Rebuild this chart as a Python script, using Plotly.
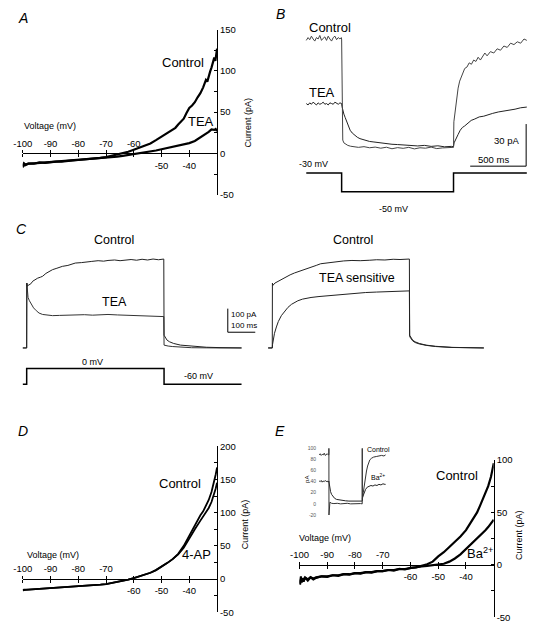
import plotly.graph_objects as go

W, H = 533, 633
FONT = "Liberation Sans, Arial, sans-serif"


def PX(x):
    return x / W


def PY(y):
    return 1 - y / H


# ---------------- data ----------------
V_TICKS = [-100, -90, -80, -70, -60, -50, -40]
V_TICK_TEXT = ["-100", "-90", "-80", "-70", "-60", "-50", "-40"]

# Panel A : I-V, control vs TEA
A_CTRL_V = [-100, -99.6, -99.2, -98, -96, -94, -92, -90, -88, -86, -84, -82, -80, -78, -76, -74, -72, -70,
            -68, -66, -64, -62, -60, -58, -56, -54, -52, -50, -48, -46, -45, -44, -43, -42, -41, -40,
            -39, -38, -37, -36, -35, -34.5, -34, -33.5, -33, -32.5, -32, -31.5, -31, -30.6, -30.3, -30]
A_CTRL_I = [-17, -12, -14.5, -12.5, -12.5, -11, -11.5, -10.5, -10, -10, -9, -8.5, -8, -7.5, -7, -6.5, -5.5, -4.5,
            -3, -1.5, 0, 2, 4.5, 7, 9.5, 12, 16, 20, 24, 28, 31, 35, 38, 42, 49, 55,
            58, 62, 68, 73, 80, 84, 89, 87, 94, 99, 104, 110, 116, 112, 120, 127]
A_TEA_V = [-100, -99.6, -99, -98, -96, -94, -92, -90, -88, -86, -84, -82, -80, -78, -76, -74, -72, -70,
           -68, -66, -64, -62, -60, -58, -56, -54, -52, -50, -48, -46, -44, -42, -40,
           -38, -37, -36, -35, -34, -33, -32.5, -32, -31, -30.5, -30]
A_TEA_I = [-15, -12, -13.5, -12.5, -12, -11.5, -11, -10.5, -10, -9.5, -9, -8.5, -8, -7.5, -7, -6.5, -6, -5,
           -4.5, -4, -3, -2, -1, 0, 1, 2, 3.5, 5, 6.5, 7.5, 9, 10.5, 12.5,
           15, 17, 19.5, 21.5, 24, 26, 27.5, 29, 28.5, 29.5, 27]
A_Y_TICKS = [-50, 0, 50, 100, 150]
A_Y_MINOR = [-25, 25, 75, 125]

# Panel B : currents at -30 -> -50 -> -30 mV
B_PRE_T = [-316, -300, -285, -270, -255, -240, -225, -210, -195, -180, -165, -150, -135, -120, -105,
           -90, -75, -60, -45, -30, -15, -3]
B_CTRL_T = B_PRE_T + [0, 3, 10, 20, 35, 55, 80, 110, 150, 200,
                      250, 300, 350, 400, 450, 500, 550, 600, 650, 700,
                      750, 800, 850, 900, 950, 998,
                      1000, 1003, 1010, 1020, 1030, 1041, 1055, 1070, 1085, 1100,
                      1120, 1140, 1160, 1180, 1200, 1220, 1240, 1260, 1280, 1300,
                      1330, 1360, 1390, 1420, 1450, 1480, 1510, 1540, 1570, 1600,
                      1630, 1655]
B_CTRL_I = [77, 79, 77.5, 80, 78, 76.5, 79, 78, 80.5, 77, 78.5, 79.5, 77, 80, 78, 76.5, 79, 80, 77.5, 79, 78, 79,
            78, 12, 6, 4, 3, 2.2, 1.6, 1.2, 0.8, 1.3,
            0.5, 1, 0.2, 0.9, -0.2, 0.6, 0.1, 0.8, -0.3, 0.5,
            0.2, 1, -0.1, 0.4, 0.6, 0.5,
            0.8, 19, 24, 30, 37, 43, 48, 51, 54, 57,
            58, 61, 60, 63, 62, 65, 63, 66, 68, 66,
            69, 68, 71, 70, 73, 72, 75, 74, 76, 75,
            78, 77]
B_TEA_T = B_PRE_T + [0, 3, 10, 20, 32, 45, 60, 76, 95, 120,
                     140, 164, 190, 220, 250, 281, 320, 360, 400, 450,
                     500, 573, 620, 680, 740, 800, 860, 920, 980, 1000,
                     1005, 1015, 1030, 1041, 1060, 1080, 1099, 1130, 1158, 1190,
                     1230, 1270, 1304, 1350, 1400, 1450, 1500, 1550, 1600, 1655]
B_TEA_I = [32, 31, 32.5, 31.5, 33, 32, 31, 32.5, 31.5, 32, 33, 31.5, 32, 31, 32.5, 32, 31.5, 33, 32, 31.5, 32.5, 32,
           32, 30, 27, 24.5, 22, 19, 16.5, 13, 11, 9,
           8, 7, 6.3, 5.5, 5, 4.7, 4.2, 3.8, 3.5, 3,
           2.8, 2.3, 2.5, 1.8, 2.2, 1.5, 1.9, 1.2, 1.5, 1.3,
           4, 6, 8, 10, 13, 15, 16, 18, 20, 21,
           22.5, 23, 24, 25, 26, 26.5, 27.5, 28, 29, 29.5]
B_PROTO_T = [-316, 0, 0, 1000, 1000, 1655]
B_PROTO_V = [-30, -30, -50, -50, -30, -30]
B_SCALE_T = [1149, 1649, 1649]
B_SCALE_I = [-12.6, -12.6, 17.4]

# Panel C : currents at 0 mV step
C_L_CTRL_T = [-14, -5, 0, 0.5, 2, 5, 10, 15, 22, 30, 40, 50, 58, 70, 80, 94, 110, 130, 150, 177,
              200, 220, 237, 260, 280, 296, 320, 340, 356, 380, 400, 420, 440, 460, 480, 493, 499, 500, 505, 511,
              520, 535, 560, 594, 654, 700, 782]
C_L_CTRL_I = [0, 0, 0, 275, 262, 265, 268, 272, 283, 290, 296, 300, 304, 316, 322, 332, 338, 346, 350, 360,
              362, 366, 367, 370, 368, 371, 373, 370, 372, 375, 372, 376, 373, 377, 374, 378, 377, 54, 42, 33,
              26, 19, 12, 8, 3, 1.5, 0]
C_L_TEA_T = [-14, -5, 0, 0.5, 2, 5, 10, 17, 25, 35, 45, 58, 75, 94, 120, 150, 177, 210, 240, 270,
             296, 330, 360, 390, 415, 440, 470, 493, 499, 500, 505, 515, 530, 560, 600, 700, 782]
C_L_TEA_I = [0, 0, 0, 275, 230, 214, 200, 186, 170, 158, 148, 142, 139, 137, 138, 140, 140, 141, 139, 142,
             142, 140, 139, 138, 137, 136, 135, 134, 133, 12, 10, 8, 6, 3, 1, 0, 0]
C_R_CTRL_T = [-15, -5, 0, 0.5, 2, 9.5, 20, 33, 50, 65, 81, 100, 117, 140, 160, 176, 200, 220, 236, 260,
              290, 320, 355, 380, 410, 440, 465, 486, 499, 500, 505, 511, 520, 535, 560, 594, 654, 700, 770]
C_R_CTRL_I = [0, 0, 0, 275, 265, 275, 282, 290, 302, 310, 318, 325, 332, 343, 350, 357, 361, 364, 367, 369,
              371, 370, 372, 374, 373, 376, 375, 378, 377, 54, 42, 33, 26, 19, 12, 7, 2.5, 1, 0]
C_R_TEAS_T = [-15, -5, 0, 1, 3.6, 8, 15, 22, 33, 45, 57, 70, 80, 93, 110, 125, 141, 170, 200, 240,
              295, 340, 380, 414, 450, 475, 492, 499, 500, 505, 511, 520, 535, 560, 594, 654, 700, 770]
C_R_TEAS_I = [0, 0, 0, 15, 33, 62, 89, 112, 137, 156, 172, 185, 192, 200, 207, 211, 214, 218, 221, 226,
              232, 235, 237, 239, 240, 241, 242, 242, 48, 38, 30, 23, 17, 11, 6, 2, 1, 0]
C_PROTO_T = [-14, 0, 0, 500, 500, 782]
C_PROTO_V = [-60, -60, 0, 0, -60, -60]
C_SCALE_T = [732, 732, 832]
C_SCALE_I = [166.7, 66.7, 66.7]

# Panel D : I-V, control vs 4-AP
D_V = [-100, -99.6, -98, -96, -94, -92, -90, -88, -86, -84, -82, -80, -78, -76, -74, -72, -70,
       -68, -66, -64, -62, -60, -58, -56, -54, -52, -50, -48, -46, -44, -42, -40,
       -38, -36, -35, -34, -33, -32, -31, -30.5, -30]
D_CTRL_I = [-17, -16, -16, -15.5, -15, -14.5, -14, -13.5, -13, -12.5, -12, -11.5, -11, -10, -9.5, -8.5, -7.5,
            -6, -4.5, -3, -1, 1.5, 4, 6.5, 9.5, 13.5, 18.5, 24, 30, 38, 50, 66,
            80, 96, 102, 110, 119, 131, 147, 157, 168]
D_4AP_I = [-17, -16.5, -16, -15.5, -15, -14.5, -14, -13.5, -13, -12.5, -12, -11.5, -11, -10, -9.5, -8.5, -7.5,
           -6, -4.5, -3, -1, 1.5, 4, 6.5, 9.5, 13.5, 18.5, 24, 30, 37, 47, 62,
           75, 88, 94, 100, 107, 116, 128, 136, 145]
D_Y_TICKS = [-50, 0, 50, 100, 150, 200]
D_Y_MINOR = [-25, 25, 75, 125, 175]

# Panel E : I-V, control vs Ba2+
E_V = [-100, -99.8, -99.5, -99.2, -99, -98.5, -98, -97, -96, -95, -94, -92, -90, -88, -86, -84, -82, -80,
       -78, -76, -74, -72, -70, -68, -66, -64, -62, -60, -58, -56, -54, -52, -50, -48, -46, -44, -42, -40,
       -38, -36, -35, -34, -33, -32, -31, -30.5, -30]
E_CTRL_I = [-14, -19, -11, -17, -13, -16, -12, -15, -12, -14, -12.5, -11, -11.5, -10, -10.5, -9, -9.5, -8,
            -8.5, -7, -7.5, -6, -6, -5, -5.5, -4, -4.5, -3, -2.5, -1, 0.5, 3, 8, 12, 17, 22, 27, 33,
            41, 50, 56, 62, 68, 75, 84, 90, 97]
E_BA_I = [-15, -18, -12, -16, -13, -15, -12, -14, -12, -13, -12, -11, -11, -10, -10, -9, -9, -8,
          -8, -7, -7, -6, -6, -5, -5, -4, -4, -3, -2.5, -1.5, -1, -0.5, 0.5, 1, 3, 6, 10, 15,
          20, 25, 28, 30, 33, 36, 39, 41, 43]
E_Y_TICKS = [-50, 0, 50, 100]
E_Y_MINOR = [-25, 25, 75]

# Panel E inset : current traces
INS_CTRL_T = [-290, -260, -230, -200, -170, -140, -110, -80, -50, -20, -2, 0, 2,
              30, 80, 150, 250, 350, 450, 550, 650, 750, 850, 950, 998, 1000, 1002,
              1030, 1060, 1100, 1127, 1160, 1200, 1226, 1280, 1340, 1420, 1500, 1580, 1650, 1700]
INS_CTRL_I = [88, 90, 87, 89, 88, 91, 87, 89, 90, 88, 88, 100, -20,
              3, 1, 0.5, 1, 0, 0.5, 1, 0, 0.5, 1, 0.5, 0, 100, 8,
              20, 35, 50, 59, 68, 75, 79, 82, 84, 85, 86, 87, 86, 88]
INS_BA_T = [-290, -260, -230, -200, -170, -140, -110, -80, -50, -20, -2, 0,
            20, 50, 80, 120, 170, 230, 300, 400, 500, 600, 700, 800, 900, 998,
            1000, 1010, 1050, 1100, 1150, 1200, 1260, 1320, 1380, 1440, 1500, 1560, 1620, 1680, 1700]
INS_BA_I = [41, 40, 42, 39, 41, 40, 42, 40, 41, 39, 41, 40,
            30, 22, 17, 13, 10, 8, 7, 6, 5.5, 5, 5, 4.5, 5, 4.5,
            5, 12, 20, 26, 30, 31, 33, 32, 34, 33, 35, 34, 36, 35, 35]
INS_Y_TICKS = [-20, 0, 20, 40, 60, 80, 100]

for a, b in [(A_CTRL_V, A_CTRL_I), (A_TEA_V, A_TEA_I), (B_CTRL_T, B_CTRL_I), (B_TEA_T, B_TEA_I),
             (C_L_CTRL_T, C_L_CTRL_I), (C_L_TEA_T, C_L_TEA_I), (C_R_CTRL_T, C_R_CTRL_I),
             (C_R_TEAS_T, C_R_TEAS_I), (D_V, D_CTRL_I), (D_V, D_4AP_I), (E_V, E_CTRL_I), (E_V, E_BA_I),
             (INS_CTRL_T, INS_CTRL_I), (INS_BA_T, INS_BA_I)]:
    assert len(a) == len(b), (len(a), len(b))

# ---------------- figure ----------------
fig = go.Figure()
layout = {}


def xk(n):
    return "xaxis" if n == 1 else f"xaxis{n}"


def yk(n):
    return "yaxis" if n == 1 else f"yaxis{n}"


def xr(n):
    return "x" if n == 1 else f"x{n}"


def yr(n):
    return "y" if n == 1 else f"y{n}"


def add(x, y, xa, ya, color="black", width=1.0):
    fig.add_trace(go.Scatter(x=x, y=y, xaxis=xr(xa), yaxis=yr(ya), mode="lines",
                             line=dict(color=color, width=width), hoverinfo="skip",
                             showlegend=False))


TICK_FONT = dict(family=FONT, size=9.5, color="black")


def iv_axes(n_top, n_bot, n_y, xpx, ypx, yrange, ymajor, yminor, top_labels):
    xdom = [PX(xpx[0]), PX(xpx[1])]
    ydom = [PY(ypx[1]), PY(ypx[0])]
    zero = ydom[0] + (0 - yrange[0]) / (yrange[1] - yrange[0]) * (ydom[1] - ydom[0])
    top_v = [v for v in V_TICKS if v in top_labels]
    top_t = [t for v, t in zip(V_TICKS, V_TICK_TEXT) if v in top_labels]
    bot_v = [v for v in V_TICKS if v not in top_labels]
    bot_t = [t for v, t in zip(V_TICKS, V_TICK_TEXT) if v not in top_labels]
    common = dict(range=[-100, -30], anchor="free", position=zero, tickmode="array",
                  ticklen=3, tickwidth=1, tickcolor="black", ticks="outside",
                  showgrid=False, zeroline=False, tickfont=TICK_FONT, fixedrange=True)
    # upper half of every tick, labels above the line for the left part
    layout[xk(n_top)] = dict(common, domain=xdom, side="top", tickvals=top_v, ticktext=top_t,
                             minor=dict(tickvals=bot_v, ticks="outside", ticklen=3, tickwidth=1,
                                        tickcolor="black"),
                             showline=True, linecolor="black", linewidth=1)
    # lower half of every tick, labels below the line for the right part
    layout[xk(n_bot)] = dict(common, overlaying=xr(n_top), side="bottom", tickvals=bot_v, ticktext=bot_t,
                             minor=dict(tickvals=top_v, ticks="outside", ticklen=3, tickwidth=1,
                                        tickcolor="black"),
                             showline=False)
    layout[yk(n_y)] = dict(domain=ydom, range=yrange, anchor="free", position=xdom[1], side="right",
                           tickmode="array", tickvals=ymajor, ticktext=[str(v) for v in ymajor],
                           ticks="inside", ticklen=3, tickwidth=1, tickcolor="black",
                           minor=dict(tickvals=yminor, ticks="inside", ticklen=3, tickwidth=1,
                                      tickcolor="black"),
                           showline=True, linecolor="black", linewidth=1, showgrid=False,
                           zeroline=False, tickfont=TICK_FONT, fixedrange=True)


# Panel A
iv_axes(1, 2, 1, (13, 211), (24, 192), [-50, 150], A_Y_TICKS, A_Y_MINOR, [-100, -90, -80, -70, -60])
add(A_TEA_V, A_TEA_I, 2, 1, "black", 2.2)
add(A_CTRL_V, A_CTRL_I, 1, 1, "black", 2.2)

# Panel D
iv_axes(6, 7, 7, (13, 211), (448, 617), [-50, 200], D_Y_TICKS, D_Y_MINOR, [-100, -90, -80, -70])
add(D_V, D_4AP_I, 7, 7, "black", 1.8)
add(D_V, D_CTRL_I, 6, 7, "black", 1.8)

# Panel E
iv_axes(8, 9, 8, (295, 493), (462, 622), [-50, 100], E_Y_TICKS, E_Y_MINOR, [-100, -90, -80, -70])
add(E_V, E_BA_I, 9, 8, "black", 2.2)
add(E_V, E_CTRL_I, 8, 8, "black", 2.2)

# Panel B (x3 ; y2 current, y3 voltage)
layout[xk(3)] = dict(domain=[PX(300), PX(530)], range=[-333, 1684], visible=False, anchor="y2", fixedrange=True)
layout[yk(2)] = dict(domain=[PY(170), PY(15)], range=[-17.5, 91], visible=False, anchor="x3", fixedrange=True)
layout[yk(3)] = dict(domain=[PY(195), PY(165)], range=[-56.3, -24.7], visible=False, anchor="x3", fixedrange=True)
add(B_TEA_T, B_TEA_I, 3, 2, "#222222", 1)
add(B_CTRL_T, B_CTRL_I, 3, 2, "#444444", 1)
add(B_SCALE_T, B_SCALE_I, 3, 2, "black", 1)
add(B_PROTO_T, B_PROTO_V, 3, 3, "black", 1.5)

# Panel C left (x4 ; y4 current, y5 voltage), right (x5 ; y6)
layout[xk(4)] = dict(domain=[PX(10), PX(255)], range=[-25, 850], visible=False, anchor="y4", fixedrange=True)
layout[yk(4)] = dict(domain=[PY(352), PY(240)], range=[-16.7, 450], visible=False, anchor="x4", fixedrange=True)
layout[yk(5)] = dict(domain=[PY(392), PY(360)], range=[-86.25, 33.75], visible=False, anchor="x4", fixedrange=True)
layout[xk(5)] = dict(domain=[PX(258), PX(490)], range=[-33.2, 795.4], visible=False, anchor="y6", fixedrange=True)
layout[yk(6)] = dict(domain=[PY(352), PY(240)], range=[-16.7, 450], visible=False, anchor="x5", fixedrange=True)
add(C_L_TEA_T, C_L_TEA_I, 4, 4, "#333333", 1)
add(C_L_CTRL_T, C_L_CTRL_I, 4, 4, "#222222", 1)
add(C_SCALE_T, C_SCALE_I, 4, 4, "black", 1)
add(C_PROTO_T, C_PROTO_V, 4, 5, "black", 1.5)
add(C_R_TEAS_T, C_R_TEAS_I, 5, 6, "#222222", 1)
add(C_R_CTRL_T, C_R_CTRL_I, 5, 6, "#222222", 1)

# Panel E inset (x10 ; y9)
layout[xk(10)] = dict(domain=[PX(313), PX(385)], range=[-353, 1765], visible=False, anchor="y9", fixedrange=True)
layout[yk(9)] = dict(domain=[PY(518), PY(450)], range=[-20, 100], anchor="x10", side="left",
                     tickmode="array", tickvals=INS_Y_TICKS, ticktext=[str(v) for v in INS_Y_TICKS],
                     ticks="", showline=False, showgrid=False, zeroline=False,
                     tickfont=dict(family=FONT, size=5, color="#555555"), fixedrange=True)
add(INS_BA_T, INS_BA_I, 10, 9, "#222222", 1)
add(INS_CTRL_T, INS_CTRL_I, 10, 9, "#333333", 1)

# ---------------- text ----------------
ann = []


def text(s, x, y, size, xanchor="center", angle=0, color="black"):
    ann.append(dict(text=s, x=PX(x), y=PY(y), xref="paper", yref="paper", showarrow=False,
                    xanchor=xanchor, yanchor="middle", textangle=angle,
                    font=dict(family=FONT, size=size, color=color)))


# panel letters
for s, x, y in [("A", 13, 12), ("B", 276, 8), ("C", 12, 227), ("D", 13, 433), ("E", 275, 433)]:
    text(f"<i>{s}</i>", x, y, 14)

# A
text("Control", 176, 58, 13)
text("TEA", 195, 118, 13)
text("Voltage (mV)", 12, 122, 9, xanchor="left")
text("Current (pA)", 242, 118, 9, angle=-90)
# B
text("Control", 326, 22, 13)
text("TEA", 318, 88, 13)
text("30 pA", 506, 137, 9.5)
text("500 ms", 493, 156, 9.5)
text("-30 mV", 309, 161, 9)
text("-50 mV", 391, 207, 9)
# C
text("Control", 106, 238, 12.5)
text("TEA", 106, 301, 12.5)
text("Control", 350, 238, 12.5)
text("TEA sensitive", 354, 277, 12.5)
text("100 pA", 223, 314, 8, xanchor="left")
text("100 ms", 223, 325, 8, xanchor="left")
text("0 mV", 84, 362, 9)
text("-60 mV", 192, 377, 9)
# D
text("Control", 173, 486, 13)
text("4-AP", 190, 558, 13)
text("Voltage (mV)", 15, 559, 9, xanchor="left")
text("Current (pA)", 239, 528, 9, angle=-90)
# E
text("Control", 456, 478, 13)
text("Ba<sup>2+</sup>", 479, 557, 13)
text("Voltage (mV)", 292, 541, 9, xanchor="left")
text("Current (pA)", 518, 538, 9, angle=-90)
text("Control", 376, 451, 7)
text("Ba<sup>2+</sup>", 375, 479, 7)
text("pA", 302, 482, 6, angle=-90)

fig.update_layout(width=W, height=H, margin=dict(l=0, r=0, t=0, b=0),
                  paper_bgcolor="white", plot_bgcolor="white", showlegend=False,
                  annotations=ann, font=dict(family=FONT, color="black"), **layout)

fig.write_html("out.html", config={"displayModeBar": False, "staticPlot": True},
               post_script="document.body.style.margin='0';document.body.style.overflow='hidden';")
